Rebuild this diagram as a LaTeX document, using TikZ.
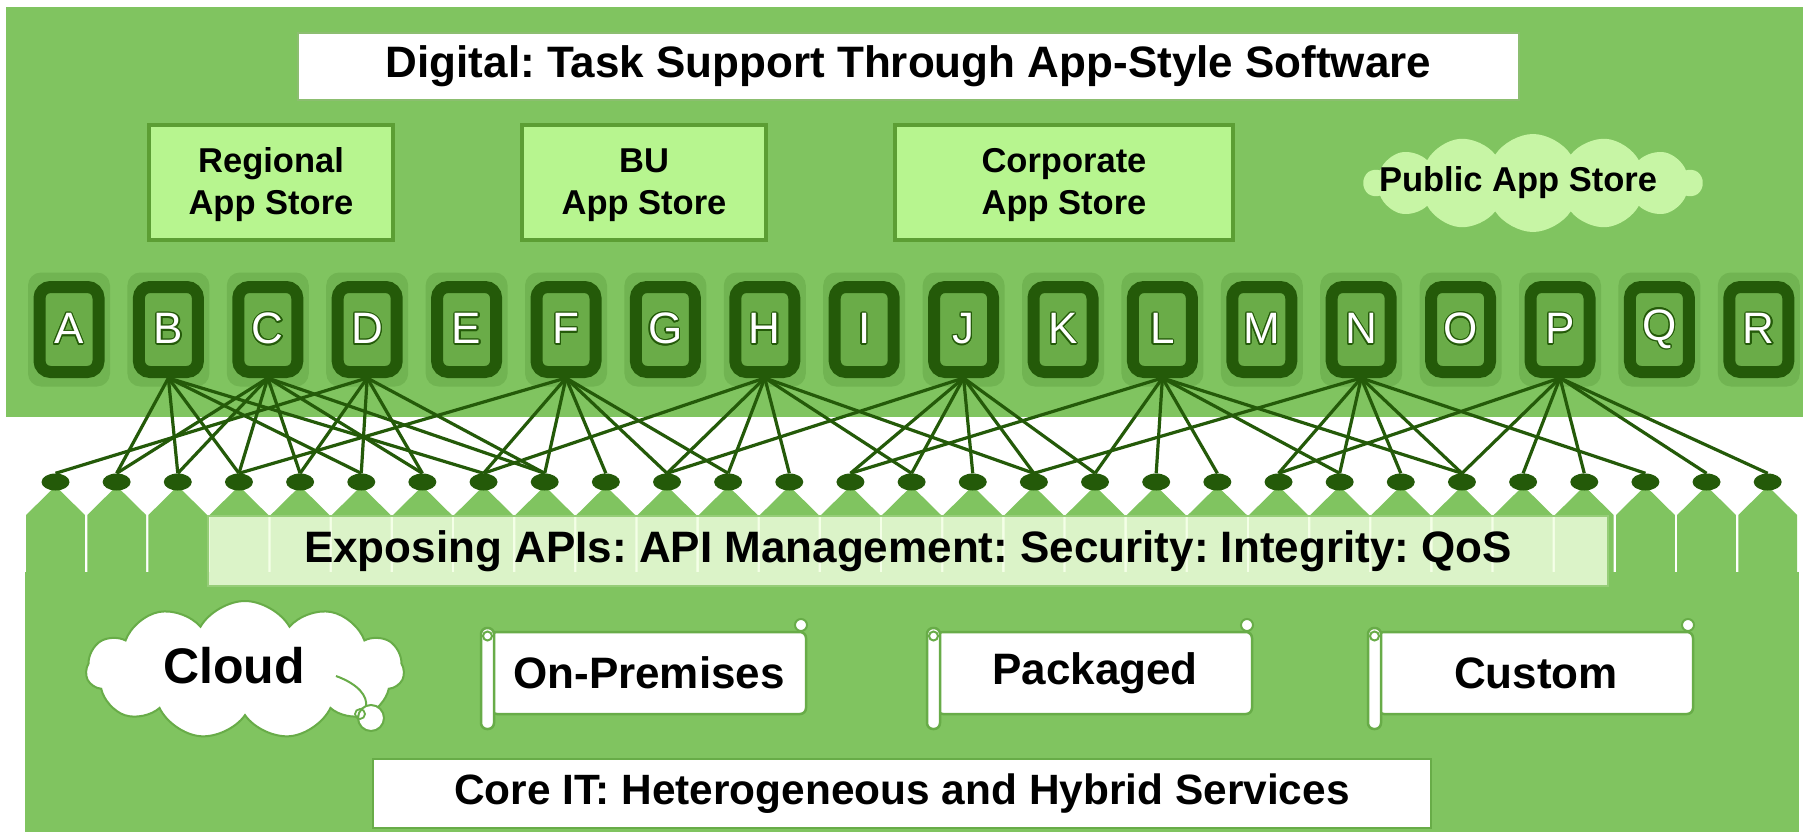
\documentclass[tikz,border=0pt]{standalone}
\usepackage{fontspec}
\setmainfont{Liberation Sans}
\usepackage{contour}
\contourlength{1.3pt}
\usetikzlibrary{shapes.geometric,shapes.symbols}

\definecolor{bggreen}{RGB}{128,196,96}
\definecolor{halogreen}{RGB}{113,180,82}
\definecolor{tiledark}{RGB}{36,90,9}
\definecolor{tilein}{RGB}{106,172,72}
\definecolor{storefill}{RGB}{183,245,143}
\definecolor{storeline}{RGB}{92,158,52}
\definecolor{publicfill}{RGB}{199,245,165}
\definecolor{titleline}{RGB}{140,190,112}
\definecolor{barfill}{RGB}{242,255,226}
\definecolor{barline}{RGB}{150,205,120}
\definecolor{softline}{RGB}{104,172,72}

% horizontal scroll: left x, name of the label node, label
\newcommand\drawscroll[3]{%
  \draw[softline, line width=2.5pt, fill=white, rounded corners=6pt]
    ({#1+10},632) -- ({#1+325},632) -- ({#1+325},714) -- ({#1+10},714) -- cycle;
  \draw[softline, line width=2.5pt, fill=white, rounded corners=6pt]
    (#1,628) rectangle ({#1+13},729);
  \draw[softline, line width=2pt] ({#1+6.5},636) circle[radius=4.5];
  \draw[softline, line width=2pt, fill=white] ({#1+320},625) circle[radius=6];
  \node[scrolltext] (#2) at ({#1+168},673) {#3};
}

\begin{document}
\frenchspacing
\begin{tikzpicture}[x=1pt,y=-1pt,
  titlebox/.style={draw=titleline, line width=2pt, fill=white, inner sep=0pt,
    font=\fontsize{44}{50}\selectfont\bfseries},
  storebox/.style={draw=storeline, line width=4pt, fill=storefill, inner sep=0pt,
    align=center, minimum width=244pt, minimum height=115pt,
    font=\fontsize{34.5}{42}\selectfont\bfseries},
  tilehalo/.style={fill=halogreen, rounded corners=13pt, minimum width=82pt,
    minimum height=114pt, inner sep=0pt},
  apptile/.style={draw=tiledark, fill=tilein, line width=12pt, rounded corners=11pt,
    minimum width=59pt, minimum height=85pt, inner sep=0pt, text=white,
    font=\fontsize{44}{44}\selectfont},
  dot/.style={ellipse, fill=tiledark, minimum width=28pt, minimum height=17pt,
    inner sep=0pt},
  conn/.style={draw=tiledark, line width=3.2pt},
  barbox/.style={draw=barline, line width=2pt, fill=barfill, fill opacity=0.8,
    text opacity=1, inner sep=0pt, font=\fontsize{44}{50}\selectfont\bfseries},
  scrolltext/.style={inner sep=0pt, font=\fontsize{44}{50}\selectfont\bfseries},
  corebox/.style={draw=softline, line width=2pt, fill=white, inner sep=0pt,
    font=\fontsize{42.4}{50}\selectfont\bfseries},
  bigtext/.style={inner sep=0pt, font=\fontsize{50}{56}\selectfont\bfseries},
  storetext/.style={inner sep=0pt, font=\fontsize{34.5}{42}\selectfont\bfseries}
]
\useasboundingbox (0,0) rectangle (1806,832);
\fill[white] (0,0) rectangle (1806,832);

% ---------- upper layer: digital ----------
\fill[bggreen] (6,7) rectangle (1803,417);

\node[titlebox, minimum width=1221pt, minimum height=67pt] (title) at (908.5,66.5)
  {Digital: Task Support Through App-Style Software};

\node[storebox] (regional)  at (271,182.5) {\strut Regional\\App Store};
\node[storebox] (bu)        at (644,182.5) {\strut BU\\App Store};
\node[storebox, minimum width=338pt] (corporate) at (1064,182.5) {\strut Corporate\\App Store};

\node[cloud, cloud puffs=14, cloud puff arc=115, cloud ignores aspect,
  minimum width=338pt, minimum height=98pt, fill=publicfill, inner sep=0pt]
  (publiccloud) at (1533,183) {};
\node[storetext] (publictext) at (1518,183) {Public App Store};

% app tiles A..R
\foreach \L [count=\k from 0] in {A,B,C,D,E,F,G,H,I,J,K,L,M,N,O,P,Q,R}{
  \node[tilehalo] (h\L) at ({69+99.4*\k},329.5) {};
  \node[apptile] (t\L) at ({69+99.4*\k},329.5) {\raisebox{-2pt}{\contour{tiledark}{\L}}};
}

% ---------- lower layer: core IT ----------
\fill[bggreen] (25,572) rectangle (1798.5,832);
\foreach \i in {1,...,29}{
  \pgfmathsetmacro\cx{55.5+61.15*(\i-1)}
  \fill[bggreen] (\cx,486) -- ({\cx+29.4},515) -- ({\cx+29.4},575)
    -- ({\cx-29.4},575) -- ({\cx-29.4},515) -- cycle;
}

% service end points
\foreach \i in {1,...,29}{
  \node[dot] (d\i) at ({55.5+61.15*(\i-1)},482) {};
}

% app-to-service connectors
\foreach \src/\targets in {B/{2,3,4,6,8}, C/{2,3,4,5,7,9}, D/{1,5,6,7,9},
    F/{4,8,9,10,11,12}, H/{8,11,12,13,15,17}, J/{11,14,15,16,17,18},
    L/{14,18,19,20,22,24}, N/{17,21,22,23,24,27}, P/{21,24,25,26,28,29}}{
  \foreach \d in \targets { \draw[conn] (t\src.south) -- (d\d.north); }
}

\node[barbox, minimum width=1400pt, minimum height=70pt] (apibar) at (908,551)
  {Exposing APIs: API Management: Security: Integrity: QoS};

% cloud with its tail
\node[cloud, cloud puffs=11, cloud puff arc=120, cloud ignores aspect,
  minimum width=318pt, minimum height=138pt, fill=white, draw=softline,
  line width=2pt, inner sep=0pt] (cloudshape) at (245,670) {};
\draw[softline, line width=2pt] (336,676) .. controls (358,684) and (368,696) .. (366,707);
\draw[softline, line width=2pt, fill=white] (371,718) circle[radius=13];
\draw[softline, line width=1.8pt] (360,714) circle[radius=5];
\node[bigtext] (cloudtext) at (234,666) {Cloud};

\drawscroll{481}{onprem}{On-Premises}
\drawscroll{927}{packaged}{Packaged}
\drawscroll{1368}{custom}{Custom}

\node[corebox, minimum width=1058pt, minimum height=69pt] (coreit) at (902,793.5)
  {Core IT: Heterogeneous and Hybrid Services};
\end{tikzpicture}
\end{document}
